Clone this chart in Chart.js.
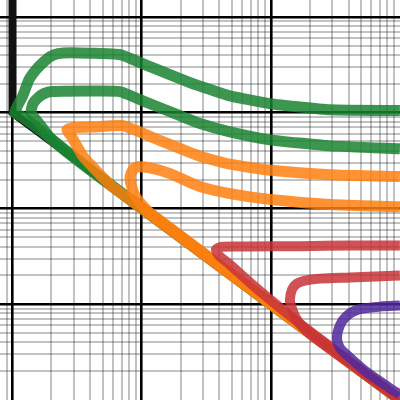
<!DOCTYPE html>
<html><head><meta charset="utf-8">
<script src="https://cdn.jsdelivr.net/npm/chart.js@4.4.1/dist/chart.umd.min.js"></script>
<style>html,body{margin:0;padding:0;background:#fff}canvas{display:block}</style>
</head><body>
<canvas id="c" width="400" height="400"></canvas>
<script>
// grid (tick) values
const xGrid = [0.9, 1,2,3,4,5,6,7,8,9, 10,20,30,40,50,60,70,80,90, 100,200,300,400,500,600,700,800,900];
const yGrid = [0.002,0.003,0.004,0.005,0.006,0.007,0.008,0.009,
               0.01,0.02,0.03,0.04,0.05,0.06,0.07,0.08,0.09,
               0.1,0.2,0.3,0.4,0.5,0.6,0.7,0.8,0.9,
               1,2,3,4,5,6,7,8,9,10];

// boundary (black)
const blackX = [1, 1, 1000];
const blackY = [15, 1, 0.001];

// green curves
const green1X = [1000, 4, 2.5, 1.5, 1.15, 1.04, 1.1, 1.195, 1.34, 1.52, 1.72, 1.95, 2.25, 2.8, 4, 6.8, 11.6, 23.6, 35, 48.2, 98.4, 287, 998];
const green1Y = [0.001, 0.255, 0.42, 0.72, 0.93, 1.0, 1.2, 1.48, 2.21, 2.81, 3.33, 3.84, 4.13, 4.23, 4.18, 4.03, 3.02, 2.06, 1.72, 1.50, 1.24, 1.07, 1.05];
const green2X = [1000, 5, 2.55, 1.95, 1.63, 1.39, 1.44, 1.575, 1.75, 2.02, 3.98, 6.79, 10.2, 19.8, 28.3, 48.2, 98.4, 287, 998];
const green2Y = [0.001, 0.2, 0.40, 0.55, 0.75, 1.0, 1.24, 1.43, 1.58, 1.66, 1.68, 1.66, 1.33, 0.93, 0.77, 0.63, 0.52, 0.45, 0.42];

// orange curves
const orange1X = [1000, 5.89, 4.59, 3.51, 2.87, 2.64, 3.05, 4.35, 7.16, 13.9, 28.3, 48.2, 100, 287, 998];
const orange1Y = [0.001, 0.17, 0.237, 0.35, 0.56, 0.665, 0.70, 0.71, 0.73, 0.51, 0.35, 0.29, 0.25, 0.225, 0.215];
const orange2X = [1000, 11.6, 9.70, 8.72, 8.26, 8.11, 8.56, 9.36, 11.6, 16.6, 28.3, 48.2, 100, 287, 998];
const orange2Y = [0.001, 0.090, 0.115, 0.143, 0.18, 0.21, 0.254, 0.272, 0.265, 0.231, 0.169, 0.143, 0.124, 0.110, 0.104];

// red curves
const red1X = [1000, 287, 168, 98.4, 68.9, 48.2, 39.7, 37.6, 41.8, 68.9, 168, 410, 998];
const red1Y = [0.001, 0.00361, 0.00627, 0.0112, 0.0168, 0.0259, 0.0322, 0.0372, 0.0399, 0.0400, 0.0404, 0.0409, 0.0410];
const red2X = [1000, 240, 183.6, 156, 143, 140.6, 145.7, 159, 183.6, 240, 410, 998];
const red2Y = [0.001, 0.00407, 0.00543, 0.00724, 0.00967, 0.0112, 0.0142, 0.0164, 0.0176, 0.0185, 0.0190, 0.0199];

// purple curve
const purpleX = [998, 821, 545, 410, 342, 325, 342, 381, 472, 699, 998];
const purpleY = [0.00114, 0.00135, 0.00198, 0.00277, 0.00352, 0.00448, 0.00598, 0.00742, 0.00878, 0.00944, 0.00967];

function pts(xs, ys) { return xs.map((x, i) => ({x: x, y: ys[i]})); }
function isMajor(v) { const l = Math.log10(v); return Math.abs(l - Math.round(l)) < 1e-6; }

const GREEN = 'rgba(27,132,49,0.85)';
const ORANGE = 'rgba(255,127,14,0.85)';
const RED = 'rgba(200,52,54,0.85)';
const PURPLE = 'rgba(80,40,155,0.85)';

function ds(xs, ys, color, w, tension, join) {
  return {data: pts(xs, ys), showLine: true, borderColor: color, backgroundColor: color,
    borderWidth: w, tension: tension, pointRadius: 0, fill: false,
    borderCapStyle: 'butt', borderJoinStyle: join || 'round'};
}

const T = 0.15;
const datasets = [
  ds(purpleX, purpleY, PURPLE, 10, 0.3),
  ds(red2X, red2Y, RED, 10, 0.3),
  ds(red1X, red1Y, RED, 10, 0.2),
  ds(orange2X, orange2Y, ORANGE, 11, 0.25),
  ds(orange1X, orange1Y, ORANGE, 11, T),
  ds(green2X, green2Y, GREEN, 11, T),
  ds(green1X, green1Y, GREEN, 11, T),
  ds(blackX, blackY, '#111', 8, 0, 'miter')
];

function gridColor(ctx) { return ctx.tick && isMajor(ctx.tick.value) ? '#000' : 'rgba(0,0,0,0.24)'; }
function gridWidth(ctx) { return ctx.tick && isMajor(ctx.tick.value) ? 2.6 : 2; }

new Chart(document.getElementById('c'), {
  type: 'scatter',
  data: {datasets: datasets},
  options: {
    responsive: false, animation: false, devicePixelRatio: 1,
    layout: {padding: 0},
    plugins: {legend: {display: false}, tooltip: {enabled: false}},
    elements: {point: {radius: 0}},
    scales: {
      x: {type: 'logarithmic', min: 0.8, max: 1000,
        border: {display: false},
        ticks: {display: false, autoSkip: false},
        grid: {drawTicks: false, tickLength: 0, color: gridColor, lineWidth: gridWidth},
        afterBuildTicks: s => { s.ticks = xGrid.map(v => ({value: v})); },
        afterFit: s => { s.height = 0; }
      },
      y: {type: 'logarithmic', min: 0.001, max: 15,
        border: {display: false},
        ticks: {display: false, autoSkip: false},
        grid: {drawTicks: false, tickLength: 0, color: gridColor, lineWidth: gridWidth},
        afterBuildTicks: s => { s.ticks = yGrid.map(v => ({value: v})); },
        afterFit: s => { s.width = 0; }
      }
    }
  }
});
</script>
</body></html>
